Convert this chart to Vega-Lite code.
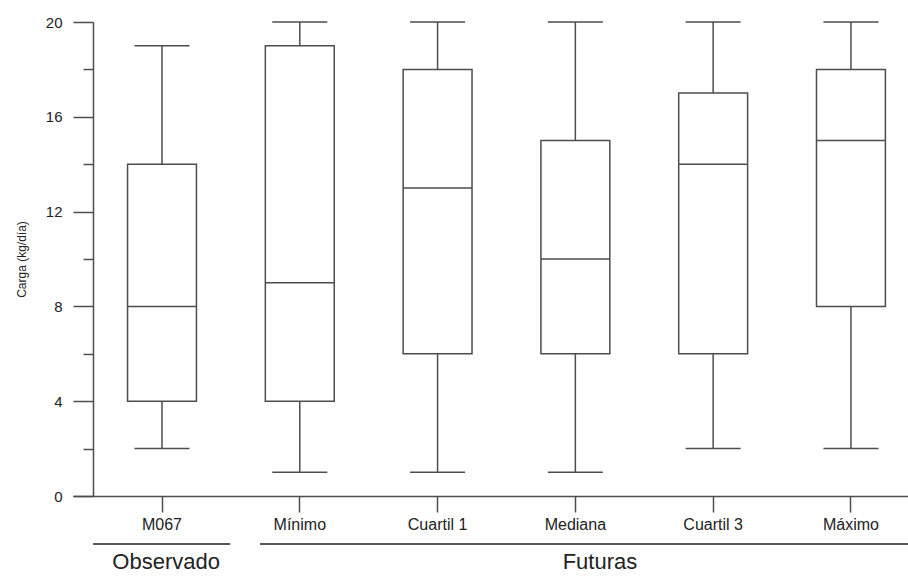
{
  "$schema": "https://vega.github.io/schema/vega-lite/v6.json",
  "width": 835,
  "height": 474,
  "autosize": {"type": "none"},
  "padding": {"left": 73, "top": 22, "right": 0, "bottom": 80},
  "background": "white",
  "config": {
    "view": {"stroke": null},
    "font": "Liberation Sans",
    "axis": {"domainColor": "#4d4d4d", "tickColor": "#4d4d4d", "domainWidth": 1.5, "tickWidth": 1.5, "labelColor": "#222222", "titleColor": "#222222", "grid": false}
  },
  "datasets": {
    "cajas": [
      {"escenario": "M067", "minimo": 2, "q1": 4, "mediana": 8, "q3": 14, "maximo": 19},
      {"escenario": "Mínimo", "minimo": 1, "q1": 4, "mediana": 9, "q3": 19, "maximo": 20},
      {"escenario": "Cuartil 1", "minimo": 1, "q1": 6, "mediana": 13, "q3": 18, "maximo": 20},
      {"escenario": "Mediana", "minimo": 1, "q1": 6, "mediana": 10, "q3": 15, "maximo": 20},
      {"escenario": "Cuartil 3", "minimo": 2, "q1": 6, "mediana": 14, "q3": 17, "maximo": 20},
      {"escenario": "Máximo", "minimo": 2, "q1": 8, "mediana": 15, "q3": 18, "maximo": 20}
    ],
    "grupos": [
      {"grupo": "Observado", "desde": "M067", "hasta": "M067", "centro": "M067"},
      {"grupo": "Futuras", "desde": "Mínimo", "hasta": "Máximo", "centro": "Mediana"}
    ]
  },
  "encoding": {
    "x": {
      "field": "escenario",
      "type": "nominal",
      "sort": null,
      "scale": {"domain": ["M067", "Mínimo", "Cuartil 1", "Mediana", "Cuartil 3", "Máximo"], "paddingInner": 0.5, "paddingOuter": 0.28, "align": 0.707},
      "axis": {"title": null, "labelAngle": 0, "labelFontSize": 16, "tickSize": 16, "labelPadding": 4}
    }
  },
  "layer": [
    {
      "data": {"name": "cajas"},
      "mark": {"type": "rule", "stroke": "#4d4d4d", "strokeWidth": 1.5},
      "encoding": {
        "y": {"field": "minimo", "type": "quantitative", "scale": {"domain": [0, 20], "nice": false, "zero": false},
          "axis": {"title": "Carga (kg/día)", "titleFontSize": 12, "titleFontWeight": "normal", "titlePadding": 17,
            "values": [0, 2, 4, 6, 8, 10, 12, 14, 16, 18, 20],
            "labelExpr": "datum.value % 4 === 0 ? datum.label : ''",
            "offset": -20,
            "tickSize": {"condition": {"test": "datum.value % 4 === 0", "value": 20}, "value": 10},
            "labelFontSize": 15, "labelPadding": 11}},
        "y2": {"field": "q1"}
      }
    },
    {
      "data": {"name": "cajas"},
      "mark": {"type": "rule", "stroke": "#4d4d4d", "strokeWidth": 1.5},
      "encoding": {
        "y": {"field": "q3", "type": "quantitative"},
        "y2": {"field": "maximo"}
      }
    },
    {
      "data": {"name": "cajas"},
      "mark": {"type": "bar", "fill": "white", "stroke": "#4d4d4d", "strokeWidth": 1.5},
      "encoding": {
        "y": {"field": "q1", "type": "quantitative"},
        "y2": {"field": "q3"}
      }
    },
    {
      "data": {"name": "cajas"},
      "mark": {"type": "tick", "color": "#4d4d4d", "opacity": 1, "thickness": 1.5, "size": 69},
      "encoding": {"y": {"field": "mediana", "type": "quantitative"}}
    },
    {
      "data": {"name": "cajas"},
      "mark": {"type": "tick", "color": "#4d4d4d", "opacity": 1, "thickness": 1.5, "size": 55},
      "encoding": {"y": {"field": "minimo", "type": "quantitative"}}
    },
    {
      "data": {"name": "cajas"},
      "mark": {"type": "tick", "color": "#4d4d4d", "opacity": 1, "thickness": 1.5, "size": 55},
      "encoding": {"y": {"field": "maximo", "type": "quantitative"}}
    },
    {
      "data": {"name": "grupos"},
      "transform": [{"filter": "datum.grupo === 'Observado'"}],
      "mark": {"type": "rule", "stroke": "#222222", "strokeWidth": 1.5},
      "encoding": {
        "x": {"field": "desde", "type": "nominal", "bandPosition": -0.5},
        "x2": {"field": "hasta", "bandPosition": 1.49},
        "y": {"datum": -2.03}
      }
    },
    {
      "data": {"name": "grupos"},
      "transform": [{"filter": "datum.grupo === 'Futuras'"}],
      "mark": {"type": "rule", "stroke": "#222222", "strokeWidth": 1.5},
      "encoding": {
        "x": {"field": "desde", "type": "nominal", "bandPosition": -0.077},
        "x2": {"field": "hasta", "bandPosition": 1.45},
        "y": {"datum": -2.03}
      }
    },
    {
      "data": {"name": "grupos"},
      "transform": [{"filter": "datum.grupo === 'Observado'"}],
      "mark": {"type": "text", "fontSize": 22, "color": "#222222", "baseline": "alphabetic", "align": "center"},
      "encoding": {
        "x": {"field": "centro", "type": "nominal", "bandPosition": 0.56},
        "y": {"datum": -3.08},
        "text": {"field": "grupo"}
      }
    },
    {
      "data": {"name": "grupos"},
      "transform": [{"filter": "datum.grupo === 'Futuras'"}],
      "mark": {"type": "text", "fontSize": 22, "color": "#222222", "baseline": "alphabetic", "align": "center"},
      "encoding": {
        "x": {"field": "centro", "type": "nominal", "bandPosition": 0.857},
        "y": {"datum": -3.08},
        "text": {"field": "grupo"}
      }
    }
  ]
}
